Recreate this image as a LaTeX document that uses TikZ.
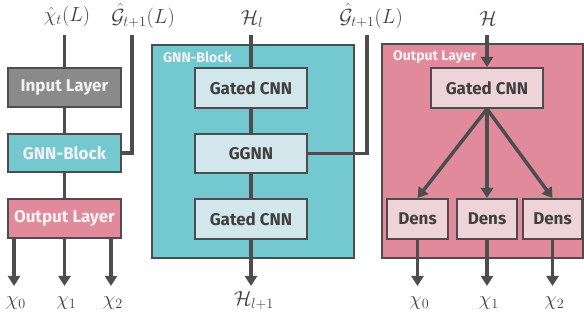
\documentclass[tikz,border=0pt]{standalone}
\usepackage{fontspec}
\setsansfont{Fira Sans}
\usetikzlibrary{arrows.meta}
\definecolor{lineC}{HTML}{4D4D4D}
\definecolor{grayF}{HTML}{8A8A8A}
\definecolor{tealF}{HTML}{74C9D1}
\definecolor{pinkF}{HTML}{E08A9C}
\definecolor{ltblue}{HTML}{D2E7EB}
\definecolor{ltpink}{HTML}{EED4D9}
\definecolor{txtD}{HTML}{404040}
\definecolor{txtW}{HTML}{F2F2F2}
\newcommand{\mymath}[1]{\scalebox{1.18}{$#1$}}
\begin{document}
\begin{tikzpicture}[x=1pt,y=-1pt,
  blk/.style={draw=lineC, line width=2pt, inner sep=0pt, font=\sffamily\bfseries\fontsize{17}{19}\selectfont},
  panel/.style={draw=lineC, line width=2pt, inner sep=0pt},
  ln/.style={draw=lineC, line width=3.5pt},
  arr/.style={draw=lineC, line width=3.5pt, -{Triangle[width=12pt,length=10pt]}},
  mlab/.style={font=\fontsize{17.28}{18}\selectfont, text=txtD, inner sep=0pt},
  plab/.style={font=\sffamily\bfseries\fontsize{14}{15}\selectfont, text=txtW, anchor=west, inner sep=0pt}
]
\useasboundingbox (0,0) rectangle (584,320);
% ---------- left ----------
\node[blk, fill=grayF, text=txtW, minimum width=113pt, minimum height=39pt] (inL) at (64.5,87.5) {Input Layer};
\node[blk, fill=tealF, text=txtW, minimum width=113pt, minimum height=38pt] (gnnL) at (64.5,153) {GNN-Block};
\node[blk, fill=pinkF, text=txtW, minimum width=113pt, minimum height=39pt] (outL) at (64.5,218.5) {Output Layer};
\node[mlab] (chiT) at (67,16) {\mymath{\hat{\chi}_t(L)}};
\node[mlab] (gT1) at (143,16) {\mymath{\hat{\mathcal{G}}_{t+1}(L)}};
\coordinate (inTop) at (64.5,35);
\coordinate (gTop1) at (132,35);
\draw[ln] (inTop) -- (inL.north);
\draw[ln] (inL) -- (gnnL);
\draw[ln] (gnnL) -- (outL);
\draw[ln] (gTop1) |- (gnnL.east);
\coordinate (xa) at (14,286);
\coordinate (xb) at (64.5,286);
\coordinate (xc) at (111,286);
\draw[arr] (outL.south -| xa) -- (xa);
\draw[arr] (outL.south -| xb) -- (xb);
\draw[arr] (outL.south -| xc) -- (xc);
\node[mlab] (la) at (16,303) {\mymath{\chi_0}};
\node[mlab] (lb) at (66.5,303) {\mymath{\chi_1}};
\node[mlab] (lc) at (113,303) {\mymath{\chi_2}};
% ---------- middle ----------
\node[panel, fill=tealF, minimum width=202pt, minimum height=213pt] (gnnB) at (252.5,151.5) {};
\node[plab] (gnnBl) at (163,57) {GNN-Block};
\node[blk, fill=ltblue, text=txtD, minimum width=112pt, minimum height=40pt] (g1) at (251,88) {Gated CNN};
\node[blk, fill=ltblue, text=txtD, minimum width=112pt, minimum height=39pt] (gg) at (251,153.5) {GGNN};
\node[blk, fill=ltblue, text=txtD, minimum width=112pt, minimum height=40pt] (g2) at (251,219) {Gated CNN};
\node[mlab] (hl) at (252,19) {\mymath{\mathcal{H}_l}};
\node[mlab] (gT2) at (371,16) {\mymath{\hat{\mathcal{G}}_{t+1}(L)}};
\coordinate (hTop) at (251,35);
\coordinate (gTop2) at (367,35);
\coordinate (hEnd) at (251,286);
\draw[ln] (hTop) -- (g1.north);
\draw[ln] (g1) -- (gg);
\draw[ln] (gg) -- (g2);
\draw[ln] (gTop2) |- (gg.east);
\draw[arr] (g2.south) -- (hEnd);
\node[mlab] (hl1) at (254,301) {\mymath{\mathcal{H}_{l+1}}};
% ---------- right ----------
\node[panel, fill=pinkF, minimum width=201pt, minimum height=214pt] (outB) at (482.5,151) {};
\node[plab] (outBl) at (393,57) {Output Layer};
\node[blk, fill=ltpink, text=txtD, minimum width=112pt, minimum height=40pt] (gr) at (487,88) {Gated CNN};
\node[blk, fill=ltpink, text=txtD, minimum width=61pt, minimum height=40pt] (d1) at (417.5,219) {Dens};
\node[blk, fill=ltpink, text=txtD, minimum width=60pt, minimum height=40pt] (d2) at (487,219) {Dens};
\node[blk, fill=ltpink, text=txtD, minimum width=59pt, minimum height=40pt] (d3) at (552.5,219) {Dens};
\node[mlab] (hH) at (488,19) {\mymath{\mathcal{H}}};
\coordinate (hrTop) at (487,35);
\draw[arr] (hrTop) -- (gr.north);
\draw[arr] (gr.south) -- (d1.north);
\draw[arr] (gr.south) -- (d2.north);
\draw[arr] (gr.south) -- (d3.north);
\coordinate (ya) at (417.5,286);
\coordinate (yb) at (487,286);
\coordinate (yc) at (552.5,286);
\draw[arr] (d1.south) -- (ya);
\draw[arr] (d2.south) -- (yb);
\draw[arr] (d3.south) -- (yc);
\node[mlab] (ra) at (419.5,303) {\mymath{\chi_0}};
\node[mlab] (rb) at (489,303) {\mymath{\chi_1}};
\node[mlab] (rc) at (554.5,303) {\mymath{\chi_2}};
\end{tikzpicture}
\end{document}
